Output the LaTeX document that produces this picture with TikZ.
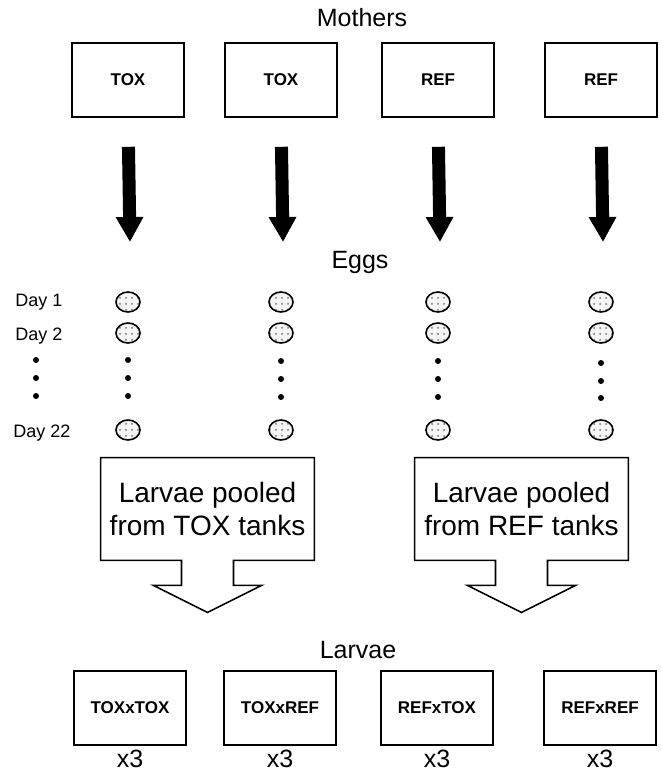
\documentclass[tikz,border=0pt]{standalone}
\usepackage{fontspec}
\setmainfont{Liberation Sans}
\usetikzlibrary{arrows.meta,positioning,calc,shapes.geometric,patterns}

\begin{document}
\begin{tikzpicture}[
  x=.5pt,y=-.5pt,
  line join=miter,
  font=\fontsize{12.5}{15}\selectfont,
  tank/.style={draw=black,line width=.8pt,minimum width=56pt,minimum height=37pt,
               inner sep=0pt,font=\fontsize{8.5}{10}\selectfont\bfseries},
  egg/.style={ellipse,draw=black,line width=.8pt,minimum width=12pt,minimum height=10pt,
              inner sep=0pt,preaction={fill=gray!8},pattern=dots,pattern color=black!55},
  eggdot/.style={circle,fill=black,minimum size=3pt,inner sep=0pt},
  day/.style={font=\fontsize{9}{11}\selectfont},
  pool/.style={minimum width=106.5pt,minimum height=51pt,align=center,inner sep=0pt,
               font=\fontsize{14}{16.5}\selectfont},
  callout/.style={draw=black,line width=.8pt},
  bigarrow/.style={line width=6.5pt,-{Triangle[width=13pt,length=12.5pt]},shorten <=14.5pt}
]
\useasboundingbox (0,0) rectangle (662,772);

% Mothers
\node (mothers) at (362,18) {Mothers};
\node[tank] (m1) at (128,80) {TOX};
\node[tank] (m2) at (281,80) {TOX};
\node[tank] (m3) at (438,80) {REF};
\node[tank] (m4) at (601,80) {REF};

\coordinate (a1) at (130,242);
\coordinate (a2) at (283,242);
\coordinate (a3) at (440,242);
\coordinate (a4) at (603,242);
\draw[bigarrow] (m1.south) -- (a1);
\draw[bigarrow] (m2.south) -- (a2);
\draw[bigarrow] (m3.south) -- (a3);
\draw[bigarrow] (m4.south) -- (a4);

% Eggs
\node (eggs) at (360,262) {Eggs};
\node[day] (d1) at (39,302) {Day 1};
\node[day] (d2) at (39,336) {Day 2};
\node[eggdot] (dd1) at (36,360) {};
\node[eggdot] (dd2) at (36,378) {};
\node[eggdot] (dd3) at (36,396) {};
\node[day] (d22) at (42,433) {Day 22};

\node[egg] (e1a) at (128,302) {}; \node[egg] (e1b) at (128,333) {}; \node[egg] (e1c) at (128,430) {};
\node[egg] (e2a) at (281,302) {}; \node[egg] (e2b) at (281,333) {}; \node[egg] (e2c) at (281,430) {};
\node[egg] (e3a) at (438,302) {}; \node[egg] (e3b) at (438,333) {}; \node[egg] (e3c) at (438,430) {};
\node[egg] (e4a) at (601,302) {}; \node[egg] (e4b) at (601,333) {}; \node[egg] (e4c) at (601,430) {};

\node[eggdot] (p1a) at (128,360) {}; \node[eggdot] (p1b) at (128,378) {}; \node[eggdot] (p1c) at (128,396) {};
\node[eggdot] (p2a) at (281,361) {}; \node[eggdot] (p2b) at (281,379) {}; \node[eggdot] (p2c) at (281,397) {};
\node[eggdot] (p3a) at (438,361) {}; \node[eggdot] (p3b) at (438,379) {}; \node[eggdot] (p3c) at (438,397) {};
\node[eggdot] (p4a) at (601,363) {}; \node[eggdot] (p4b) at (601,381) {}; \node[eggdot] (p4c) at (601,398) {};

% Pooling callouts
\node[pool] (poolT) at (207.5,509) {Larvae pooled\\from TOX tanks};
\draw[callout] (poolT.north west) -- (poolT.north east) -- (poolT.south east)
  -- ($(poolT.south)+(26,0)$) -- ++(0,25) -- ++(28,0) -- ($(poolT.south)+(0,52)$)
  -- ++(-54,-27) -- ++(28,0) -- ++(0,-25) -- (poolT.south west) -- cycle;
\node[pool] (poolR) at (521.5,509) {Larvae pooled\\from REF tanks};
\draw[callout] (poolR.north west) -- (poolR.north east) -- (poolR.south east)
  -- ($(poolR.south)+(26,0)$) -- ++(0,25) -- ++(28,0) -- ($(poolR.south)+(0,52)$)
  -- ++(-54,-27) -- ++(28,0) -- ++(0,-25) -- (poolR.south west) -- cycle;

% Larvae
\node (larvae) at (358,650) {Larvae};
\node[tank] (l1) at (130,708) {TOXxTOX};
\node[tank] (l2) at (280,708) {TOXxREF};
\node[tank] (l3) at (437,708) {REFxTOX};
\node[tank] (l4) at (600,708) {REFxREF};
\node[below=-1.5pt of l1] (r1) {x3};
\node[below=-1.5pt of l2] (r2) {x3};
\node[below=-1.5pt of l3] (r3) {x3};
\node[below=-1.5pt of l4] (r4) {x3};
\end{tikzpicture}
\end{document}
